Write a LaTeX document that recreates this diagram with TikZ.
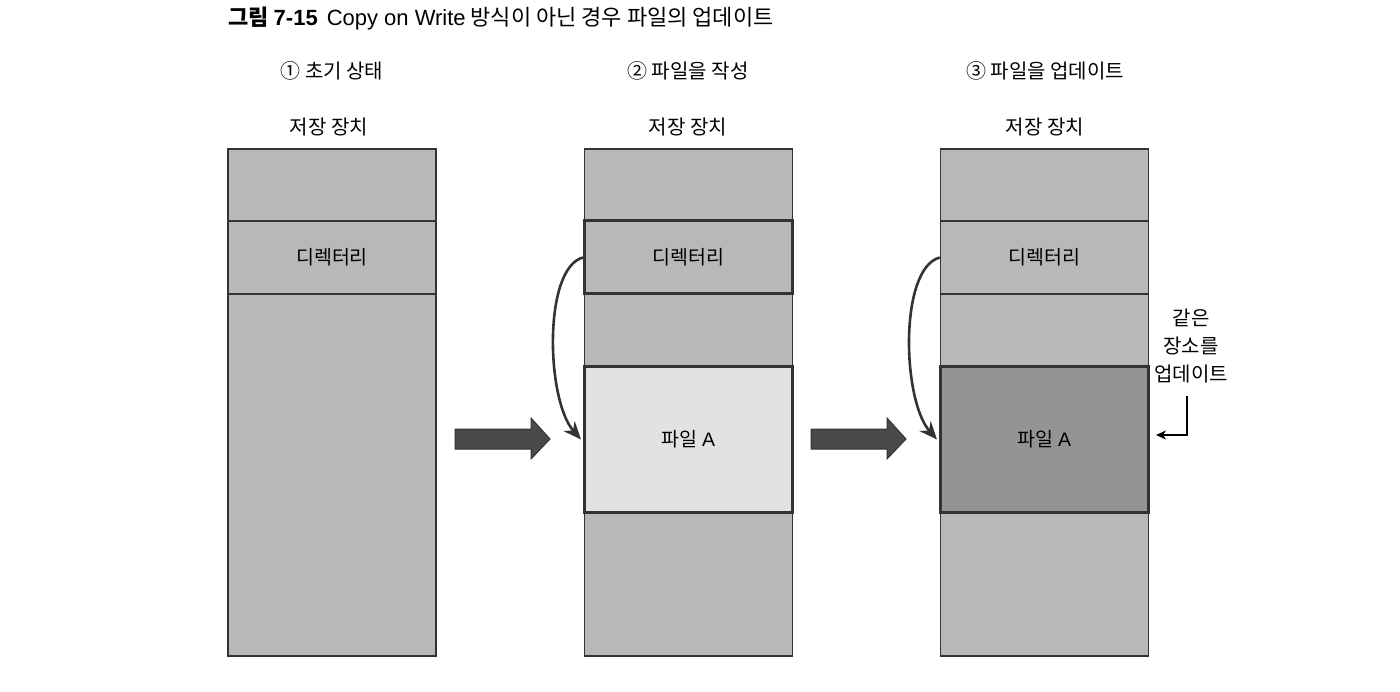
\documentclass[tikz,border=0pt]{standalone}
\usepackage{fontspec}
\setmainfont{Noto Sans CJK KR}
\newfontfamily\lat{Liberation Sans}
\usetikzlibrary{arrows.meta}
\definecolor{blkgray}{HTML}{B8B8B8}
\definecolor{lightA}{HTML}{E2E2E2}
\definecolor{darkA}{HTML}{949494}
\definecolor{edge}{HTML}{333333}
\definecolor{arrfill}{HTML}{4A4A4A}
\begin{document}
\begin{tikzpicture}[x=1pt,y=-1pt,
  blk/.style={draw=edge,line width=1.4pt,fill=blkgray,minimum width=208pt,inner sep=0pt,font=\fontsize{19.5}{22}\selectfont},
  thickblk/.style={blk,line width=3pt},
  lbl/.style={font=\fontsize{20}{23}\selectfont,inner sep=0pt},
  bigarr/.style={draw=edge,line width=1pt,fill=arrfill},
  curvearr/.style={draw=edge,line width=2.6pt,-{Stealth[length=18pt,width=15pt,inset=6pt]}},
  elbow/.style={draw=black,line width=1.3pt,-{Stealth[length=10pt,width=9pt,inset=3pt]}}]
\useasboundingbox (0,0) rectangle (1400,692);
\fill[white] (0,0) rectangle (1400,692);
% title
\node[anchor=west,inner sep=0pt,font=\fontsize{22}{25}\selectfont] (title) at (228,19)
  {\textbf{그림 {\lat 7-15}}\hspace{9pt}{\lat Copy on Write} 방식이 아닌 경우 파일의 업데이트};
% headers
\node[lbl] (h1) at (332,71) {① 초기 상태};
\node[lbl] (h2) at (688,71) {② 파일을 작성};
\node[lbl] (h3) at (1045,71) {③ 파일을 업데이트};
\node[lbl] (s1) at (329,127) {저장 장치};
\node[lbl] (s2) at (688,127) {저장 장치};
\node[lbl] (s3) at (1045,127) {저장 장치};
% column 1
\node[blk,minimum height=72pt] (a1) at (332,185) {};
\node[blk,minimum height=73pt] (d1) at (332,257.5) {디렉터리};
\node[blk,minimum height=362pt] (r1) at (332,475) {};
% column 2
\node[blk,minimum height=72pt] (a2) at (688.5,185) {};
\node[blk,minimum height=73pt] (e2) at (688.5,330.5) {};
\node[blk,minimum height=144pt] (b2) at (688.5,584) {};
\node[thickblk,fill=lightA,minimum height=145pt] (f2) at (688.5,439.5) {파일 {\lat A}};
\node[thickblk,minimum height=73pt] (d2) at (688.5,257.5) {디렉터리};
% column 3
\node[blk,minimum height=72pt] (a3) at (1044.5,185) {};
\node[blk,minimum height=73pt] (d3) at (1044.5,257.5) {디렉터리};
\node[blk,minimum height=73pt] (e3) at (1044.5,330.5) {};
\node[blk,minimum height=144pt] (b3) at (1044.5,584) {};
\node[thickblk,fill=darkA,minimum height=145pt] (f3) at (1044.5,439.5) {파일 {\lat A}};
% big arrows
\draw[bigarr] (455,429) -- (531,429) -- (531,418) -- (550,439) -- (531,459) -- (531,449) -- (455,449) -- cycle;
\draw[bigarr] (811,429) -- (887,429) -- (887,418) -- (906,439) -- (887,459) -- (887,449) -- (811,449) -- cycle;
% curved arrows
\draw[curvearr] (d2.west) .. controls (543,268) and (546,400) .. ([xshift=-2pt]f2.west);
\draw[curvearr] (d3.west) .. controls (899,268) and (902,400) .. ([xshift=-2pt]f3.west);
% right note
\node[lbl] (n1) at (1191,318) {같은};
\node[lbl] (n2) at (1191,346) {장소를};
\node[lbl] (n3) at (1191,374) {업데이트};
\coordinate (ea) at (1187,396);
\coordinate (eb) at (1187,435);
\coordinate (ec) at (1156,435);
\draw[elbow] (ea) -- (eb) -- (ec);
\end{tikzpicture}
\end{document}
